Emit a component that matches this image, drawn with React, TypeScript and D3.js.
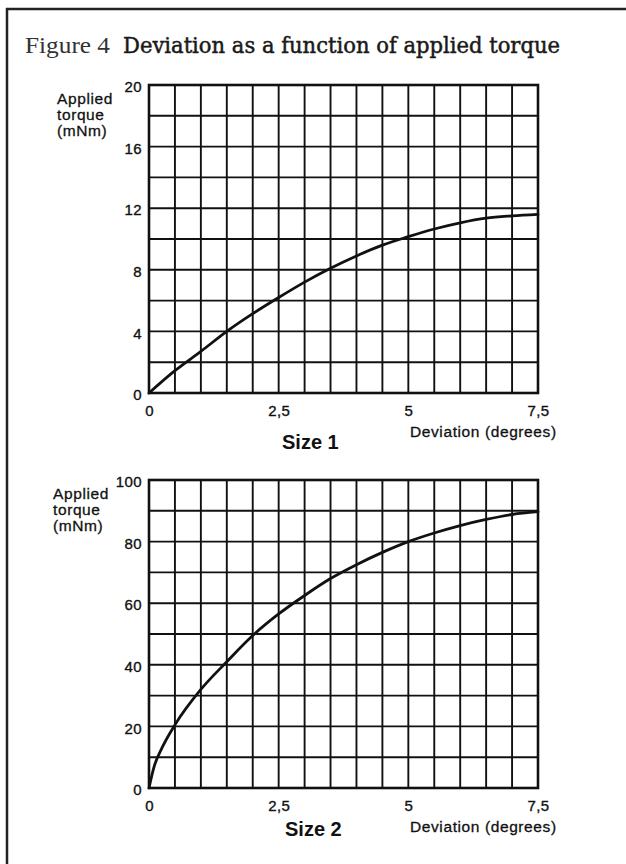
import React, { useEffect, useRef } from 'react';
import * as d3 from 'd3';

// Size 1 curve
const deviationSize1 = [0, 0.5, 1, 1.5, 2, 2.5, 3, 3.5, 4, 4.5, 5, 5.5, 6, 6.5, 7, 7.5];
const torqueSize1 = [0, 1.45, 2.7, 4, 5.15, 6.2, 7.2, 8.1, 8.9, 9.6, 10.15, 10.65, 11.05, 11.35, 11.5, 11.6];

// Size 2 curve
const deviationSize2 = [0, 0.1, 0.25, 0.5, 1, 1.5, 2, 2.5, 3, 3.5, 4, 4.5, 5, 5.5, 6, 6.5, 7, 7.5];
const torqueSize2 = [0, 7, 13, 20.5, 32, 41, 49.5, 56.5, 62.5, 68, 72.5, 76.5, 80, 82.8, 85.2, 87.2, 88.8, 89.7];

const xTicks = [0, 2.5, 5, 7.5];
const yTicksSize1 = [0, 4, 8, 12, 16, 20];
const yTicksSize2 = [0, 20, 40, 60, 80, 100];
const yLabelLines = ['Applied', 'torque', '(mNm)'];

const W = 626;
const H = 864;
const ink = '#111';
const sans = '"Liberation Sans", Arial, sans-serif';

const fmt = (d) => String(d).replace('.', ',');

export default function App() {
  const svgRef = useRef(null);

  useEffect(() => {
    const svg = d3.select(svgRef.current);
    svg.selectAll('*').remove();

    svg.append('rect').attr('width', W).attr('height', H).attr('fill', '#fff');

    // frame (only top and left edges are visible)
    svg.append('line').attr('x1', 6).attr('x2', W).attr('y1', 9).attr('y2', 9)
      .attr('stroke', '#222').attr('stroke-width', 2.5);
    svg.append('line').attr('x1', 7).attr('x2', 7).attr('y1', 8).attr('y2', H)
      .attr('stroke', '#222').attr('stroke-width', 2.5);

    // title
    svg.append('text')
      .attr('x', 25).attr('y', 53)
      .style('font-family', '"Liberation Serif", serif')
      .style('font-size', '23px')
      .style('fill', '#333')
      .attr('textLength', 85).attr('lengthAdjust', 'spacingAndGlyphs')
      .text('Figure 4');
    svg.append('text')
      .attr('x', 123).attr('y', 53)
      .style('font-family', '"DejaVu Serif Condensed", "DejaVu Serif", serif')
      .style('font-stretch', 'condensed')
      .style('font-size', '22px')
      .style('fill', '#1a1a1a')
      .style('stroke', '#1a1a1a')
      .style('stroke-width', 0.45)
      .attr('textLength', 437).attr('lengthAdjust', 'spacingAndGlyphs')
      .text('Deviation as a function of applied torque');

    const drawPanel = (cfg) => {
      const { top, bottom, xs, ys, yMax, yStep, yTicks, labelX, sizeLabel, sizeX, sizeY } = cfg;
      const left = 149;
      const right = 538;

      const x = d3.scaleLinear().domain([0, 7.5]).range([left, right]);
      const y = d3.scaleLinear().domain([0, yMax]).range([bottom, top]);

      const g = svg.append('g');

      // grid
      d3.range(0.5, 7.5, 0.5).forEach(v => {
        g.append('line')
          .attr('x1', x(v)).attr('x2', x(v))
          .attr('y1', top).attr('y2', bottom)
          .attr('stroke', ink).attr('stroke-width', 1.9);
      });
      d3.range(yStep, yMax, yStep).forEach(v => {
        g.append('line')
          .attr('x1', left).attr('x2', right)
          .attr('y1', y(v)).attr('y2', y(v))
          .attr('stroke', ink).attr('stroke-width', 1.9);
      });
      g.append('rect')
        .attr('x', left).attr('y', top)
        .attr('width', right - left).attr('height', bottom - top)
        .attr('fill', 'none').attr('stroke', ink).attr('stroke-width', 2.6);

      // axes (labels only)
      const yAxis = g.append('g')
        .attr('transform', `translate(${left},0)`)
        .call(d3.axisLeft(y).tickValues(yTicks).tickSize(0).tickPadding(7).tickFormat(fmt));
      const xAxis = g.append('g')
        .attr('transform', `translate(0,${bottom})`)
        .call(d3.axisBottom(x).tickValues(xTicks).tickSize(0).tickPadding(12).tickFormat(fmt));
      [yAxis, xAxis].forEach(a => {
        a.select('.domain').remove();
        a.selectAll('text')
          .style('font-family', sans)
          .style('font-size', '15px')
          .style('letter-spacing', '0.4px')
          .style('fill', ink)
          .style('stroke', ink)
          .style('stroke-width', 0.35);
      });
      yAxis.selectAll('text').attr('dy', '0.45em');

      // curve
      const line = d3.line()
        .x(d => x(d[0]))
        .y(d => y(d[1]))
        .curve(d3.curveMonotoneX);
      g.append('path')
        .datum(xs.map((v, i) => [v, ys[i]]))
        .attr('d', line)
        .attr('fill', 'none')
        .attr('stroke', ink)
        .attr('stroke-width', 2.8)
        .attr('stroke-linecap', 'round');

      // axis titles
      const labelStyle = (t) => t
        .style('font-family', sans)
        .style('font-size', '15.5px')
        .style('letter-spacing', '0.6px')
        .style('fill', ink)
        .style('stroke', ink)
        .style('stroke-width', 0.3);

      yLabelLines.forEach((t, i) => {
        labelStyle(g.append('text')
          .attr('x', labelX)
          .attr('y', top + 19 + i * 16))
          .text(t);
      });
      labelStyle(g.append('text')
        .attr('x', 410)
        .attr('y', bottom + 44))
        .text('Deviation (degrees)');
      g.append('text')
        .attr('x', sizeX)
        .attr('y', sizeY)
        .style('font-family', sans)
        .style('font-size', '20px')
        .style('font-weight', 'bold')
        .style('fill', ink)
        .text(sizeLabel);
    };

    drawPanel({
      top: 85, bottom: 393, xs: deviationSize1, ys: torqueSize1,
      yMax: 20, yStep: 2, yTicks: yTicksSize1, labelX: 57,
      sizeLabel: 'Size 1', sizeX: 282, sizeY: 449
    });
    drawPanel({
      top: 480, bottom: 788, xs: deviationSize2, ys: torqueSize2,
      yMax: 100, yStep: 10, yTicks: yTicksSize2, labelX: 53,
      sizeLabel: 'Size 2', sizeX: 285, sizeY: 836
    });
  }, []);

  return (
    <svg
      ref={svgRef}
      width={W}
      height={H}
      style={{ position: 'absolute', left: 0, top: 0, display: 'block' }}
    />
  );
}
